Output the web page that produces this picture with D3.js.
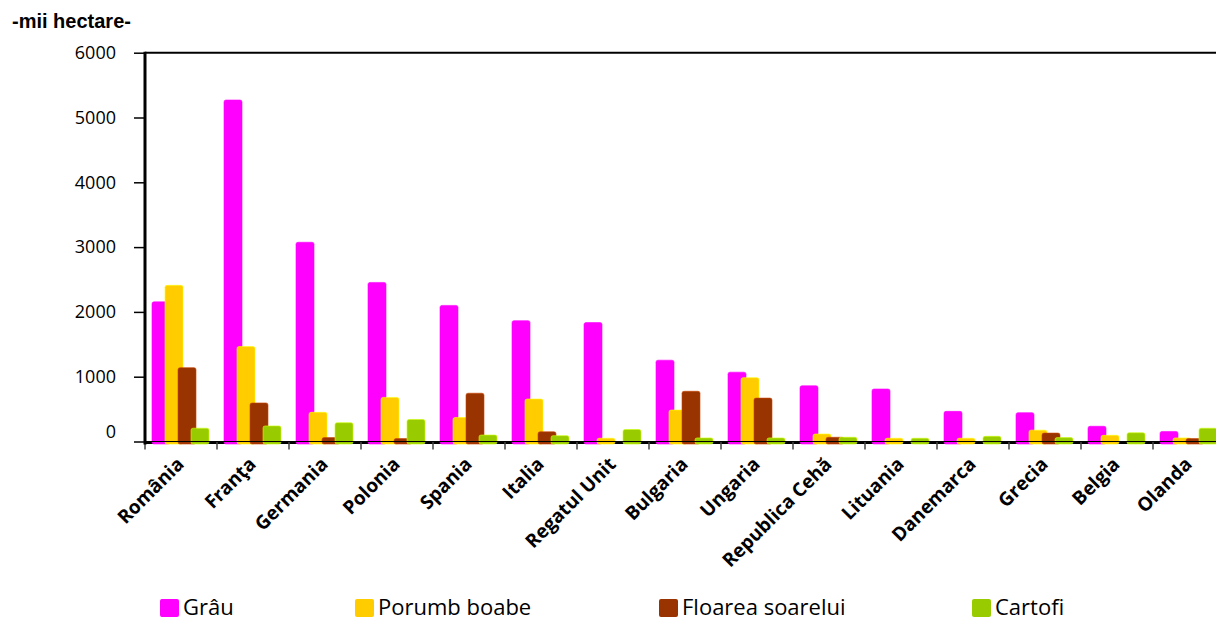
<!DOCTYPE html>
<html>
<head>
<meta charset="utf-8">
<script src="https://cdn.jsdelivr.net/npm/d3@7"></script>
<style>
  html, body { margin: 0; padding: 0; background: #fff; }
  svg { display: block; }
</style>
</head>
<body>
<svg id="chart"></svg>
<script>
/// data ///
const categories = ["România", "Franţa", "Germania", "Polonia", "Spania", "Italia", "Regatul Unit",
  "Bulgaria", "Ungaria", "Republica Cehă", "Lituania", "Danemarca", "Grecia", "Belgia", "Olanda"];
const seriesNames = ["Grâu", "Porumb boabe", "Floarea soarelui", "Cartofi"];
const grau = [2155, 5270, 3075, 2455, 2100, 1865, 1835, 1255, 1070, 860, 810, 465, 445, 235, 155];
const porumb = [2410, 1465, 450, 680, 370, 655, 50, 485, 985, 115, 50, 50, 175, 95, 55];
const floarea = [1140, 595, 60, 45, 745, 150, 0, 775, 670, 65, 0, 0, 130, 0, 45];
const cartofi = [205, 240, 290, 340, 100, 90, 185, 55, 55, 65, 50, 80, 60, 135, 205];
const yTicks = [0, 1000, 2000, 3000, 4000, 5000, 6000];
const unitLabel = "-mii hectare-";

/// constants ///
const width = 1216;
const height = 621;
const plotLeft = 145;
const plotTop = 52.7;
const zeroY = 441.5;
const catWidth = 72;
const barWidth = 18;
const barStep = 13;
const colours = ["#ff00ff", "#ffcc00", "#993300", "#99cc00"];
const legendX = [160, 355, 659, 972];

const values = [grau, porumb, floarea, cartofi];

const svg = d3.select("#chart").attr("width", width).attr("height", height);

// scales
const x0 = d3.scaleBand()
  .domain(categories)
  .range([plotLeft, plotLeft + catWidth * categories.length])
  .padding(0);
const x1 = d3.scaleBand()
  .domain(seriesNames)
  .range([7, 7 + barStep * seriesNames.length])
  .padding(0);
const y = d3.scaleLinear().domain([0, 6000]).range([zeroY, plotTop]);

/////////////////////////////////////////////
////////////// axes & frame /////////////////
/////////////////////////////////////////////
// top border of plot area
svg.append("line")
  .attr("x1", plotLeft).attr("x2", width)
  .attr("y1", y(6000)).attr("y2", y(6000))
  .attr("stroke", "#000").attr("stroke-width", 2);

// thick base line behind the bars
svg.append("line")
  .attr("x1", plotLeft).attr("x2", width)
  .attr("y1", zeroY + 1).attr("y2", zeroY + 1)
  .attr("stroke", "#000").attr("stroke-width", 3);

// y axis
const yAxis = svg.append("g")
  .attr("transform", `translate(${plotLeft},0)`)
  .call(d3.axisLeft(y).tickValues(yTicks).tickSize(11).tickPadding(18).tickFormat(d3.format("d")));
yAxis.select(".domain").remove();
yAxis.selectAll(".tick line").attr("stroke", "#000").attr("stroke-width", 1.5);
yAxis.selectAll(".tick text")
  .attr("font-family", "'Open Sans', sans-serif")
  .attr("font-size", 18)
  .attr("fill", "#000")
  .attr("dy", d => d === 0 ? "-0.2em" : "0.32em");

// x axis ticks on category boundaries
const xAxis = svg.append("g")
  .attr("transform", `translate(0,${zeroY})`)
  .call(d3.axisBottom(x0).tickSize(8).tickFormat(""));
xAxis.select(".domain").remove();
xAxis.selectAll(".tick")
  .attr("transform", d => `translate(${x0(d)},0)`);
xAxis.selectAll(".tick line").attr("stroke", "#444").attr("stroke-width", 1.5);

/////////////////////////////////////////////
//////////////// bars ///////////////////////
/////////////////////////////////////////////
seriesNames.forEach((s, si) => {
  const col = colours[si];
  svg.append("g")
    .selectAll("rect")
    .data(categories.map((c, i) => ({ c, v: values[si][i] })).filter(d => d.v > 0))
    .join("rect")
      .attr("x", d => x0(d.c) + x1(s))
      .attr("y", d => y(d.v))
      .attr("width", barWidth)
      .attr("height", d => zeroY + 2.5 - y(d.v))
      .attr("rx", 2)
      .attr("fill", col)
      .attr("stroke", d3.color(col).brighter(0.8))
      .attr("stroke-opacity", 0.6)
      .attr("stroke-width", 1);
});

// thin zero line over the bars
svg.append("line")
  .attr("x1", plotLeft).attr("x2", width)
  .attr("y1", zeroY).attr("y2", zeroY)
  .attr("stroke", "#000").attr("stroke-width", 1);

// left axis line
svg.append("line")
  .attr("x1", plotLeft).attr("x2", plotLeft)
  .attr("y1", y(6000) - 1).attr("y2", zeroY + 3)
  .attr("stroke", "#000").attr("stroke-width", 3);

// category labels
svg.append("g")
  .selectAll("text")
  .data(categories)
  .join("text")
    .attr("transform", d => `translate(${x0(d) + x0.bandwidth() / 2 + 4},${zeroY + 24}) rotate(-45)`)
    .attr("text-anchor", "end")
    .attr("font-family", "'Open Sans', sans-serif")
    .attr("font-weight", "bold")
    .attr("font-size", 19)
    .attr("fill", "#000")
    .text(d => d);

// unit label
svg.append("text")
  .attr("x", 12).attr("y", 28)
  .attr("font-family", "'Liberation Sans', Arial, sans-serif")
  .attr("font-weight", "bold")
  .attr("font-size", 20)
  .attr("fill", "#000")
  .text(unitLabel);

/////////////////////////////////////////////
//////////////// legend /////////////////////
/////////////////////////////////////////////
const legend = svg.append("g")
  .selectAll("g")
  .data(seriesNames)
  .join("g")
    .attr("transform", (d, i) => `translate(${legendX[i]},599)`);
legend.append("rect")
  .attr("width", 19).attr("height", 18).attr("rx", 2)
  .attr("fill", (d, i) => colours[i]);
legend.append("text")
  .attr("x", 23).attr("y", 16)
  .attr("font-family", "'Open Sans', sans-serif")
  .attr("font-size", 22)
  .attr("fill", "#000")
  .text(d => d);
</script>
</body>
</html>
